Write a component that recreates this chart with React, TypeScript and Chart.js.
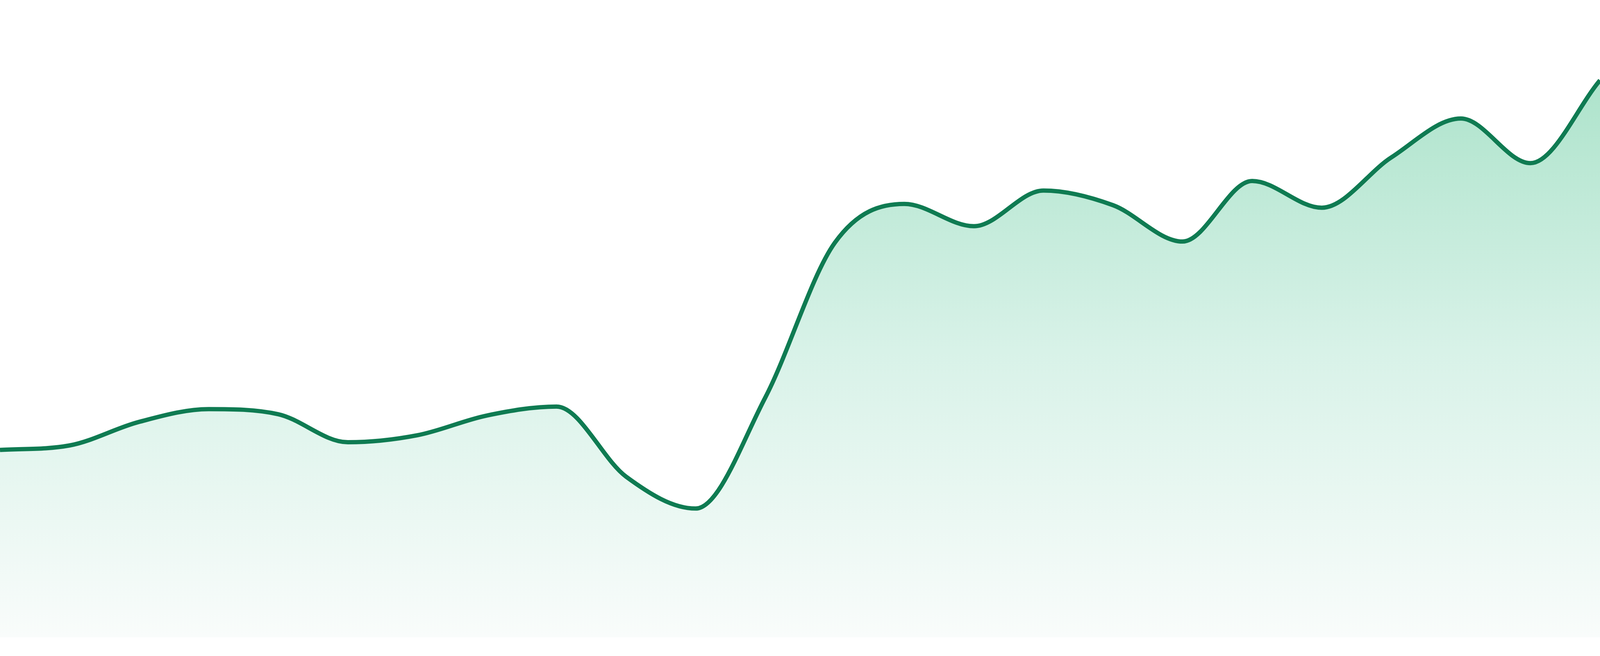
import React, { useEffect, useRef } from 'react';
import { Chart, registerables } from 'chart.js';
import type { ScriptableContext } from 'chart.js';

Chart.register(...registerables);

// 24 samples (scale 0..100, no axes drawn)
const labels: string[] = [
  '01', '02', '03', '04', '05', '06', '07', '08', '09', '10', '11', '12',
  '13', '14', '15', '16', '17', '18', '19', '20', '21', '22', '23', '24',
];

const values: number[] = [
  29.4, 30.1, 33.8, 35.8, 35.0, 30.6, 31.7, 34.8, 36.2, 25.2, 20.2, 37.6,
  61.9, 68.0, 64.5, 70.1, 67.8, 62.1, 71.6, 67.4, 75.3, 81.4, 74.4, 87.4,
];

const yRange: number[] = [0, 100];

const LINE_COLOR = '#0f7b52';

export default function App() {
  const chartRef = useRef<HTMLCanvasElement>(null);
  const chartInstanceRef = useRef<Chart | null>(null);

  useEffect(() => {
    document.body.style.margin = '0';
    if (!chartRef.current) return;
    const ctx = chartRef.current.getContext('2d');
    if (!ctx) return;

    if (chartInstanceRef.current) {
      chartInstanceRef.current.destroy();
    }

    chartInstanceRef.current = new Chart(ctx, {
      type: 'line',
      data: {
        labels: labels,
        datasets: [{
          data: values,
          borderColor: LINE_COLOR,
          borderWidth: 11,
          cubicInterpolationMode: 'monotone',
          pointRadius: 0,
          pointHoverRadius: 0,
          fill: 'start',
          backgroundColor: (context: ScriptableContext<'line'>) => {
            const { chart } = context;
            const area = chart.chartArea;
            if (!area) return 'rgba(0,0,0,0)';
            const g = chart.ctx.createLinearGradient(0, area.top, 0, area.bottom);
            g.addColorStop(0, 'rgb(161,223,195)');
            g.addColorStop(0.55, 'rgb(216,242,232)');
            g.addColorStop(1, 'rgb(249,252,251)');
            return g;
          },
        }],
      },
      options: {
        responsive: true,
        maintainAspectRatio: false,
        animation: false,
        layout: { padding: { top: 0, right: 0, bottom: 48, left: 0 } },
        scales: {
          x: { display: false },
          y: { display: false, min: yRange[0], max: yRange[1] },
        },
        plugins: {
          legend: { display: false },
          tooltip: { enabled: false },
        },
      },
    });

    return () => {
      if (chartInstanceRef.current) {
        chartInstanceRef.current.destroy();
        chartInstanceRef.current = null;
      }
    };
  }, []);

  return (
    <div style={{ position: 'relative', width: '100vw', height: '100vh' }}>
      <canvas ref={chartRef}></canvas>
    </div>
  );
}
